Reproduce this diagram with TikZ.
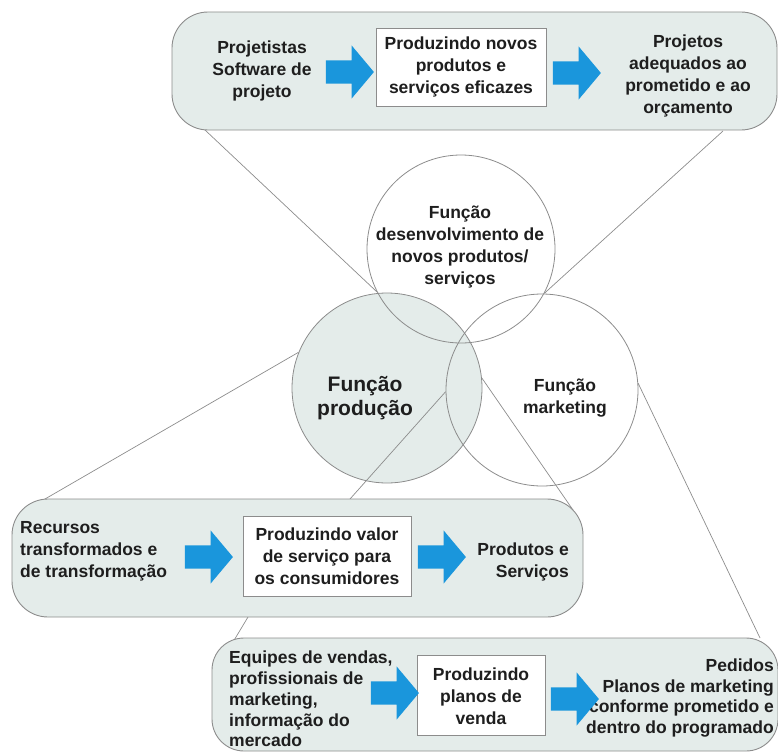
\documentclass[tikz,border=0pt]{standalone}
\usepackage{fontspec}
\setmainfont{Liberation Sans}
\usetikzlibrary{shapes.arrows}

\definecolor{panelfill}{HTML}{E4ECEA}
\definecolor{edgegrey}{HTML}{8C8C8C}
\definecolor{arrowblue}{HTML}{1A96DC}
\definecolor{inktext}{HTML}{1E1E1E}

\tikzset{
  panel/.style={draw=edgegrey, line width=0.9pt, fill=panelfill, rounded corners=36pt},
  whitebox/.style={draw=edgegrey, line width=0.8pt, fill=white},
  func/.style={circle, draw=edgegrey, line width=0.8pt, inner sep=0pt},
  label/.style={text=inktext, inner sep=0pt, font=\bfseries\fontsize{17.5}{22}\selectfont},
  tightlabel/.style={label, font=\bfseries\fontsize{17.5}{20.8}\selectfont},
  biglabel/.style={text=inktext, inner sep=0pt, font=\bfseries\fontsize{21}{24}\selectfont},
  callout/.style={draw=edgegrey, line width=0.7pt},
  blockarrow/.style={single arrow, fill=arrowblue, draw=none, inner xsep=0pt,
    inner ysep=11.5pt, minimum height=48pt, minimum width=53pt,
    single arrow head extend=15pt, single arrow tip angle=100}
}

\begin{document}
\begin{tikzpicture}[x=1pt, y=-1pt]
\useasboundingbox (0,0) rectangle (778,752);
\begin{scope}
\clip (0,0) rectangle (778,752);

% the three functions
\node[func, fill=panelfill, minimum size=190pt] (prod) at (387,388) {};
\node[func, minimum size=188pt] (dev) at (461,249) {};
\node[func, minimum size=192pt] (mkt) at (542,390) {};

\node[label, align=center] (devtxt) at (460,247)
  {Função\\desenvolvimento de\\novos produtos/\\serviços};
\node[biglabel, align=center] (prodtxt) at (365,398) {Função\\produção};
\node[label, align=center] (mkttxt) at (565,398) {Função\\marketing};

% panel corners where the callout lines meet
\coordinate (topL) at (205,130);
\coordinate (topR) at (723,131);
\coordinate (midL) at (45,499);
\coordinate (midC) at (350,499);
\coordinate (midR) at (573,510);
\coordinate (midB) at (248,617);
\coordinate (botL) at (233,642);
\coordinate (botR) at (760,638);

\draw[callout] (topL) -- (dev.207);
\draw[callout] (topR) -- (dev.332);
\draw[callout] (midL) -- (prod.158);
\draw[callout] (midC) -- (mkt.181);
\draw[callout] (midR) -- (prod.6);
\draw[callout] (midB) -- (botL);
\draw[callout] (botR) -- (mkt.4);

% new product / service development
\node[panel, minimum width=605pt, minimum height=118pt] (tp) at (474.5,71) {};
\node[whitebox, minimum width=170pt, minimum height=78pt] (tbox) at (461,67) {};
\node[label, align=center] (tin) at (262,71) {Projetistas\\Software de\\projeto};
\node[label, align=center] (tmid) at (461,67) {Produzindo novos\\produtos e\\serviços eficazes};
\node[label, align=center] (tout) at (688,76) {Projetos\\adequados ao\\prometido e ao\\orçamento};
\node[blockarrow] (ta1) at (345,72) {};
\node[blockarrow] (ta2) at (572,73) {};

% production
\node[panel, minimum width=571pt, minimum height=118pt] (mp) at (297.5,558) {};
\node[whitebox, minimum width=168pt, minimum height=80pt] (mbox) at (327,556) {};
\node[label, align=left, anchor=west] (min) at (20,551) {Recursos\\transformados e\\de transformação};
\node[label, align=center] (mmid) at (327,556) {Produzindo valor\\de serviço para\\os consumidores};
\node[label, align=right, anchor=east] (mout) at (569,562) {Produtos e\\Serviços};
\node[blockarrow] (ma1) at (204,557) {};
\node[blockarrow] (ma2) at (437,557) {};

% marketing
\node[panel, rounded corners=32pt, minimum width=566pt, minimum height=113pt] (bp) at (495,694.5) {};
\node[whitebox, minimum width=128pt, minimum height=80pt] (bbox) at (481,695) {};
\node[tightlabel, align=left, anchor=west] (bin) at (229,699)
  {Equipes de vendas,\\profissionais de\\marketing,\\informação do\\mercado};
\node[label, align=center] (bmid) at (481,696) {Produzindo\\planos de\\venda};
\node[tightlabel, align=right, anchor=east] (bout) at (774,698)
  {Pedidos\\Planos de marketing\\conforme prometido e\\dentro do programado};
\node[blockarrow] (ba1) at (390,693) {};
\node[blockarrow] (ba2) at (570,699) {};
\end{scope}
\end{tikzpicture}
\end{document}
